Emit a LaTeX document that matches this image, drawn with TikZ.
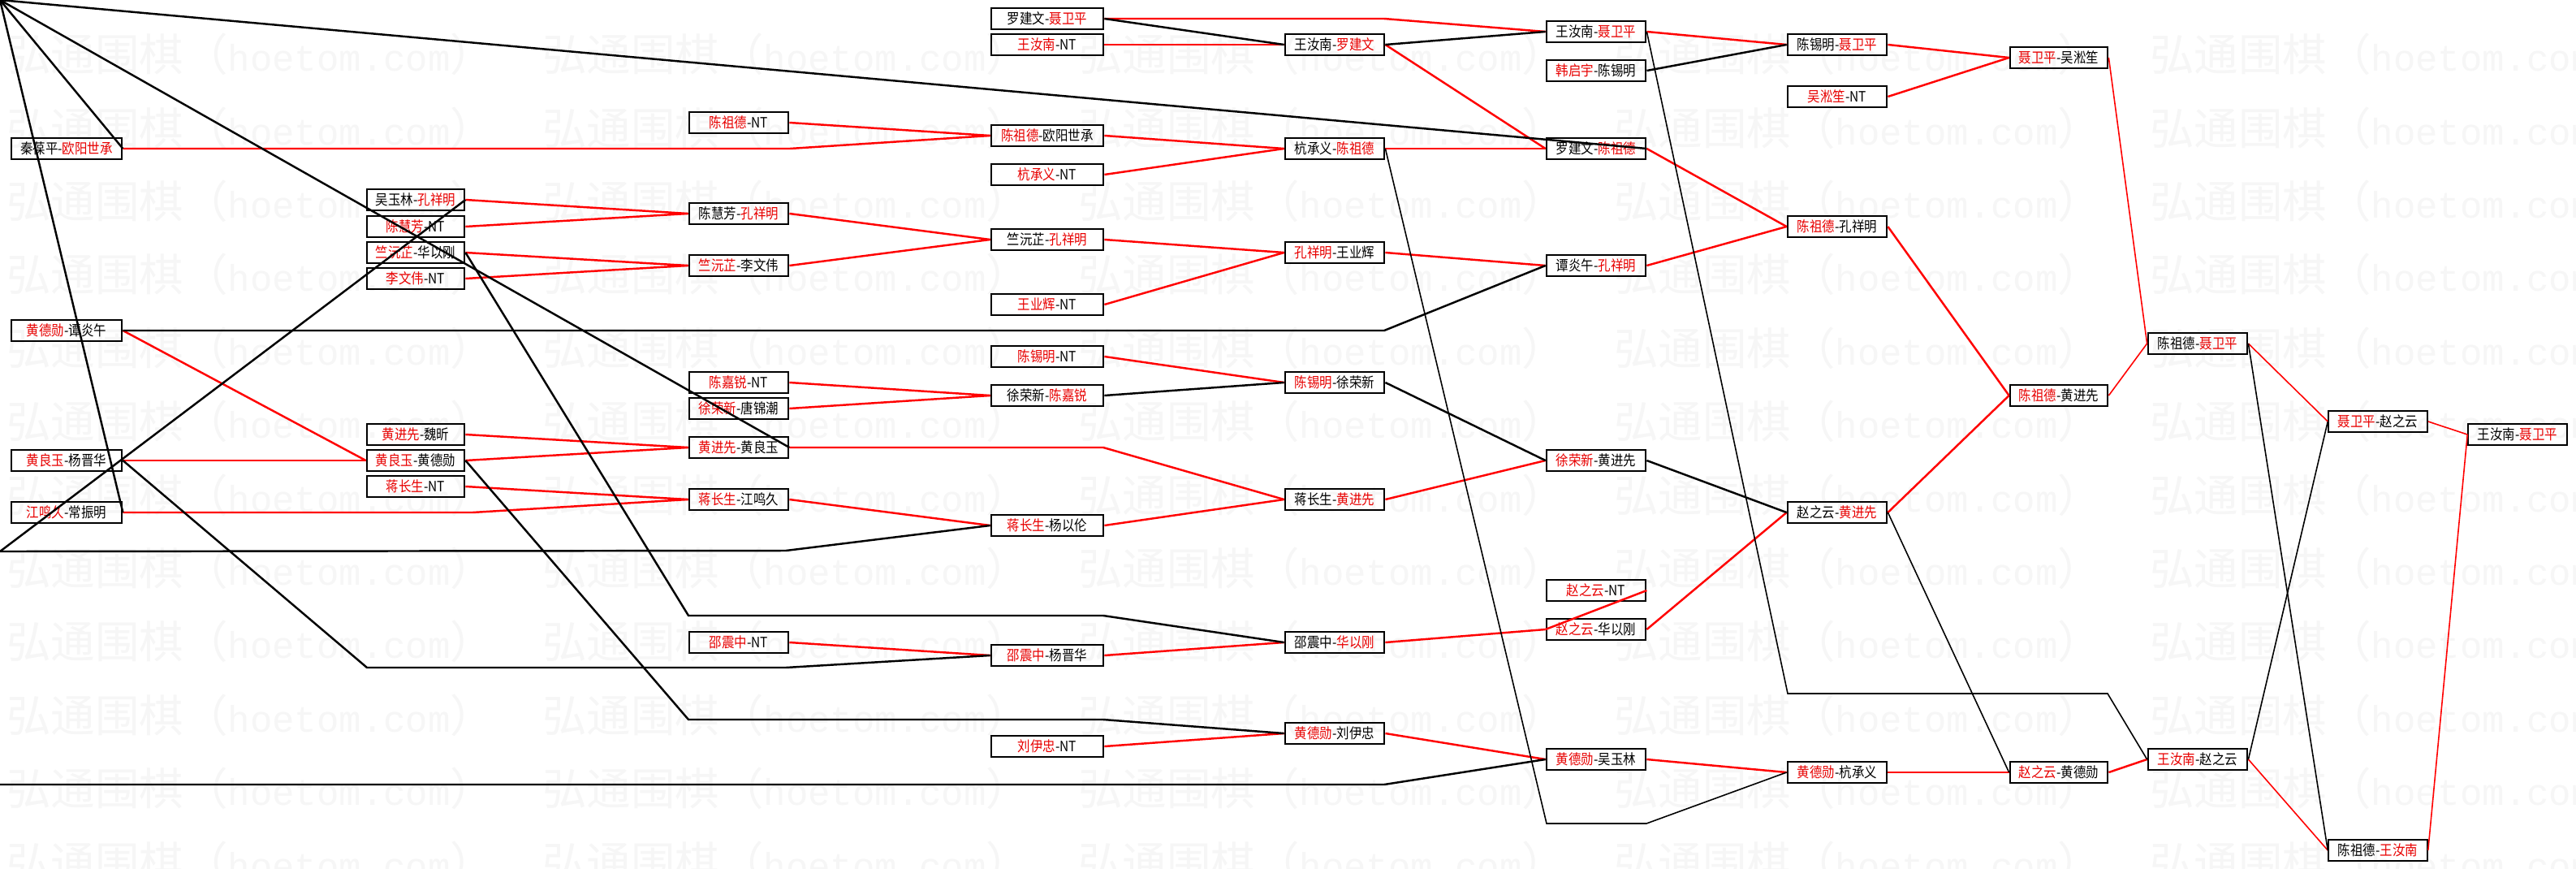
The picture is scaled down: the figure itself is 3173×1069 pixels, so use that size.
\documentclass[tikz,border=0pt]{standalone}
\usepackage{fontspec}
\newfontfamily\cjk[FakeStretch=0.88]{Noto Sans CJK SC}
\newfontfamily\wmcjk{Noto Sans CJK SC}
\newfontfamily\wmmono{Liberation Mono}
\definecolor{rd}{RGB}{232,0,0}
\newcommand{\R}[1]{\textcolor{rd}{#1}}
\begin{document}
\begin{tikzpicture}[x=0.02cm,y=-0.02cm,
 box/.style={draw,line width=1.6pt,inner sep=0pt,minimum height=0.52cm,font=\cjk\fontsize{10}{11}\selectfont},
 thinbox/.style={box,line width=0.9pt},
 cA/.style={minimum width=2.72cm}, cB/.style={minimum width=2.4cm},
 cC/.style={minimum width=2.44cm}, cD/.style={minimum width=2.76cm},
 win/.style={draw=red,line width=1.4pt},
 lose/.style={draw=black,line width=1.4pt},
 winthin/.style={draw=red,line width=0.9pt},
 losethin/.style={draw=black,line width=0.9pt},
 wmark/.style={text=black!3.5,inner sep=0pt,anchor=west,font=\wmcjk\fontsize{31}{31}\selectfont}]
\useasboundingbox (0,0) rectangle (3173,1069);
\clip (0,0) rectangle (3173,1069);
\fill[white] (0,0) rectangle (3173,1069);
% watermark
\foreach \j in {0,...,11}{\foreach \k in {0,...,4}{
 \node[wmark] (wm-\j-\k) at ({8+660*\k},{67+90.4*\j}) {弘通围棋（{\wmmono\fontsize{26}{26}\selectfont hoetom.com}）};}}
% column 1
\node[box,cA] (a1) at (82,183) {秦葆平-\R{欧阳世承}};
\node[box,cA] (a2) at (82,407) {\R{黄德勋}-谭炎午};
\node[box,cA] (a3) at (82,567) {\R{黄良玉}-杨晋华};
\node[box,cA] (a4) at (82,631) {\R{江鸣久}-常振明};
% column 2
\node[box,cB] (b1) at (512,246) {吴玉林-\R{孔祥明}};
\node[box,cB] (b2) at (512,279) {\R{陈慧芳}-NT};
\node[box,cB] (b3) at (512,311) {\R{竺沅芷}-华以刚};
\node[box,cB] (b4) at (512,343) {\R{李文伟}-NT};
\node[box,cB] (b5) at (512,535) {\R{黄进先}-魏昕};
\node[box,cB] (b6) at (512,567) {\R{黄良玉}-黄德勋};
\node[box,cB] (b7) at (512,599) {\R{蒋长生}-NT};
% column 3
\node[box,cC] (c1) at (910,151) {\R{陈祖德}-NT};
\node[box,cC] (c2) at (910,263) {陈慧芳-\R{孔祥明}};
\node[box,cC] (c3) at (910,327) {\R{竺沅芷}-李文伟};
\node[box,cC] (c4) at (910,471) {\R{陈嘉锐}-NT};
\node[box,cC] (c5) at (910,503) {\R{徐荣新}-唐锦潮};
\node[box,cC] (c6) at (910,551) {\R{黄进先}-黄良玉};
\node[box,cC] (c7) at (910,615) {\R{蒋长生}-江鸣久};
\node[box,cC] (c8) at (910,791) {\R{邵震中}-NT};
% column 4
\node[box,cD] (d1) at (1290,23) {罗建文-\R{聂卫平}};
\node[box,cD] (d2) at (1290,55) {\R{王汝南}-NT};
\node[box,cD] (d3) at (1290,167) {\R{陈祖德}-欧阳世承};
\node[box,cD] (d4) at (1290,215) {\R{杭承义}-NT};
\node[box,cD] (d5) at (1290,295) {竺沅芷-\R{孔祥明}};
\node[box,cD] (d6) at (1290,375) {\R{王业辉}-NT};
\node[box,cD] (d7) at (1290,439) {\R{陈锡明}-NT};
\node[box,cD] (d8) at (1290,487) {徐荣新-\R{陈嘉锐}};
\node[box,cD] (d9) at (1290,647) {\R{蒋长生}-杨以伦};
\node[box,cD] (d10) at (1290,807) {\R{邵震中}-杨晋华};
\node[box,cD] (d11) at (1290,919) {\R{刘伊忠}-NT};
% column 5
\node[box,cC] (e1) at (1644,55) {王汝南-\R{罗建文}};
\node[box,cC] (e2) at (1644,183) {杭承义-\R{陈祖德}};
\node[box,cC] (e3) at (1644,311) {\R{孔祥明}-王业辉};
\node[box,cC] (e4) at (1644,471) {\R{陈锡明}-徐荣新};
\node[box,cC] (e5) at (1644,615) {蒋长生-\R{黄进先}};
\node[box,cC] (e6) at (1644,791) {邵震中-\R{华以刚}};
\node[box,cC] (e7) at (1644,903) {\R{黄德勋}-刘伊忠};
% column 6
\node[box,cC] (f1) at (1966,39) {王汝南-\R{聂卫平}};
\node[box,cC] (f2) at (1966,87) {\R{韩启宇}-陈锡明};
\node[box,cC] (f3) at (1966,183) {罗建文-\R{陈祖德}};
\node[box,cC] (f4) at (1966,327) {谭炎午-\R{孔祥明}};
\node[box,cC] (f5) at (1966,567) {\R{徐荣新}-黄进先};
\node[box,cC] (f6) at (1966,727) {\R{赵之云}-NT};
\node[box,cC] (f7) at (1966,775) {\R{赵之云}-华以刚};
\node[box,cC] (f8) at (1966,935) {\R{黄德勋}-吴玉林};
% column 7
\node[box,cC] (g1) at (2263,55) {陈锡明-\R{聂卫平}};
\node[box,cC] (g2) at (2263,119) {\R{吴淞笙}-NT};
\node[box,cC] (g3) at (2263,279) {\R{陈祖德}-孔祥明};
\node[box,cC] (g4) at (2263,631) {赵之云-\R{黄进先}};
\node[box,cC] (g5) at (2263,951) {\R{黄德勋}-杭承义};
% column 8
\node[box,cB] (h1) at (2536,71) {\R{聂卫平}-吴淞笙};
\node[box,cB] (h2) at (2536,487) {\R{陈祖德}-黄进先};
\node[box,cB] (h3) at (2536,951) {\R{赵之云}-黄德勋};
% column 9
\node[box,cC] (i1) at (2707,423) {陈祖德-\R{聂卫平}};
\node[box,cC] (i2) at (2707,935) {\R{王汝南}-赵之云};
% column 10
\node[thinbox,cC] (j1) at (2929,519) {\R{聂卫平}-赵之云};
\node[thinbox,cC] (j2) at (2929,1047) {陈祖德-\R{王汝南}};
% column 11
\node[thinbox,cC] (k1) at (3101,535) {王汝南-\R{聂卫平}};
% free ends
\coordinate (o) at (0,0);
\coordinate (offA) at (0,679);
\coordinate (offB) at (0,966);
% winners (red)
\draw[win] (b1.east) -- (c2.west);
\draw[win] (b2.east) -- (c2.west);
\draw[win] (b3.east) -- (c3.west);
\draw[win] (b4.east) -- (c3.west);
\draw[win] (b5.east) -- (c6.west);
\draw[win] (b6.east) -- (c6.west);
\draw[win] (b7.east) -- (c7.west);
\draw[win] (a4.east) -- (582,631) -- (c7.west);
\draw[win] (a2.east) -- (b6.west);
\draw[win] (a3.east) -- (b6.west);
\draw[win] (a1.east) -- (973,183) -- (d3.west);
\draw[win] (c1.east) -- (d3.west);
\draw[win] (c2.east) -- (d5.west);
\draw[win] (c3.east) -- (d5.west);
\draw[win] (c4.east) -- (d8.west);
\draw[win] (c5.east) -- (d8.west);
\draw[win] (c6.east) -- (1359,551) -- (e5.west);
\draw[win] (c7.east) -- (d9.west);
\draw[win] (c8.east) -- (d10.west);
\draw[win] (d1.east) -- (1705,23) -- (f1.west);
\draw[win] (d2.east) -- (e1.west);
\draw[win] (d3.east) -- (e2.west);
\draw[win] (d4.east) -- (e2.west);
\draw[win] (d5.east) -- (e3.west);
\draw[win] (d6.east) -- (e3.west);
\draw[win] (d7.east) -- (e4.west);
\draw[win] (d9.east) -- (e5.west);
\draw[win] (d10.east) -- (e6.west);
\draw[win] (d11.east) -- (e7.west);
\draw[win] (e1.east) -- (f3.west);
\draw[win] (e2.east) -- (f3.west);
\draw[win] (e3.east) -- (f4.west);
\draw[win] (e5.east) -- (f5.west);
\draw[win] (e6.east) -- (f7.west);
\draw[win] (f6.east) -- (f7.west);
\draw[win] (e7.east) -- (f8.west);
\draw[win] (f1.east) -- (g1.west);
\draw[win] (f3.east) -- (g3.west);
\draw[win] (f4.east) -- (g3.west);
\draw[win] (f7.east) -- (g4.west);
\draw[win] (f8.east) -- (g5.west);
\draw[win] (g1.east) -- (h1.west);
\draw[win] (g2.east) -- (h1.west);
\draw[win] (g3.east) -- (h2.west);
\draw[win] (g4.east) -- (h2.west);
\draw[win] (g5.east) -- (h3.west);
\draw[winthin] (h1.east) -- (i1.west);
\draw[winthin] (h2.east) -- (i1.west);
\draw[win] (h3.east) -- (i2.west);
\draw[winthin] (i1.east) -- (j1.west);
\draw[winthin] (i2.east) -- (j2.west);
\draw[winthin] (j1.east) -- (k1.west);
\draw[winthin] (j2.east) -- (k1.west);
% losers (black)
\draw[lose] (d1.east) -- (e1.west);
\draw[lose] (d8.east) -- (e4.west);
\draw[lose] (e1.east) -- (f1.west);
\draw[losethin] (e2.east) -- (1905,1014) -- (2028,1014) -- (g5.west);
\draw[lose] (e4.east) -- (f5.west);
\draw[lose] (a2.east) -- (1705,407) -- (f4.west);
\draw[lose] (f2.east) -- (g1.west);
\draw[losethin] (f1.east) -- (2202,854) -- (2596,854) -- (i2.west);
\draw[lose] (f5.east) -- (g4.west);
\draw[losethin] (g4.east) -- (h3.west);
\draw[losethin] (i1.east) -- (j2.west);
\draw[losethin] (i2.east) -- (j1.west);
\draw[lose] (b3.east) -- (848,758) -- (1359,758) -- (e6.west);
\draw[lose] (b6.east) -- (848,886) -- (1359,886) -- (e7.west);
\draw[lose] (a3.east) -- (452,822) -- (968,822) -- (d10.west);
\draw[lose] (offA) -- (968,678) -- (d9.west);
\draw[lose] (b1.east) -- (offA);
\draw[lose] (offB) -- (1705,966) -- (f8.west);
\draw[lose] (o) -- (a1.east);
\draw[lose] (o) -- (a4.east);
\draw[lose] (o) -- (c6.east);
\draw[lose] (o) -- (f3.east);
\end{tikzpicture}
\end{document}
